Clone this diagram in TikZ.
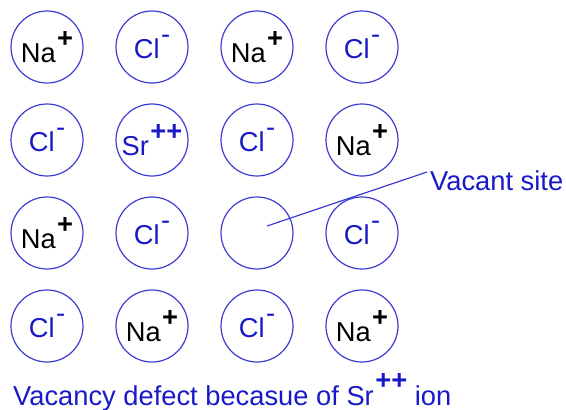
\documentclass[tikz,border=0pt]{standalone}
\usepackage{fontspec}
\setmainfont{Liberation Sans}
\usepackage{tikz}
\usetikzlibrary{positioning}

\definecolor{ringblue}{RGB}{60,60,210}
\definecolor{inkblue}{RGB}{25,25,200}
\newcommand{\charge}[1]{\kern1.5pt\raisebox{0.56em}{#1}}

\begin{document}
\begin{tikzpicture}[x=1pt, y=-1pt, node distance=105pt, font=\fontsize{27.3}{31}\selectfont]

\tikzstyle{ion}=[
    circle,
    draw=ringblue,
    line width=1.2pt,
    minimum size=72pt,
    inner sep=0pt
]
\tikzstyle{cation}=[ion, text=black]
\tikzstyle{anion}=[ion, text=inkblue]

\useasboundingbox (0,0) rectangle (566,410);

% first row
\node[cation] (A1) at (47,47) {Na\charge{\textbf{+}}};
\node[anion] (A2) [right of=A1] {Cl\charge{-}};
\node[cation] (A3) [right of=A2] {Na\charge{\textbf{+}}};
\node[anion] (A4) [right of=A3] {Cl\charge{-}};

% second row, with the Sr ion
\node[anion] (B1) [below of=A1, node distance=93pt] {Cl\charge{-}};
\node[anion] (B2) [right of=B1] {Sr\charge{\textbf{++}}};
\node[anion] (B3) [right of=B2] {Cl\charge{-}};
\node[cation] (B4) [right of=B3] {Na\charge{\textbf{+}}};

% third row, with the empty site
\node[cation] (C1) [below of=B1, node distance=93pt] {Na\charge{\textbf{+}}};
\node[anion] (C2) [right of=C1] {Cl\charge{-}};
\node[ion] (C3) [right of=C2] {};
\node[anion] (C4) [right of=C3] {Cl\charge{-}};

% fourth row
\node[anion] (D1) [below of=C1, node distance=93pt] {Cl\charge{-}};
\node[cation] (D2) [right of=D1] {Na\charge{\textbf{+}}};
\node[anion] (D3) [right of=D2] {Cl\charge{-}};
\node[cation] (D4) [right of=D3] {Na\charge{\textbf{+}}};

\node[text=inkblue, anchor=base west, inner sep=0pt] (vlabel) at (430,190) {Vacant site};
\coordinate (hole) at ([xshift=10pt, yshift=7pt]C3.center);
\draw[ringblue, line width=1.2pt] (hole) -- ([xshift=-3pt, yshift=-2pt]vlabel.north west);

\node[text=inkblue, anchor=base west, inner sep=0pt] (caption) at (13,405)
    {Vacancy defect becasue of Sr\charge{\textbf{++}} ion};

\end{tikzpicture}
\end{document}
